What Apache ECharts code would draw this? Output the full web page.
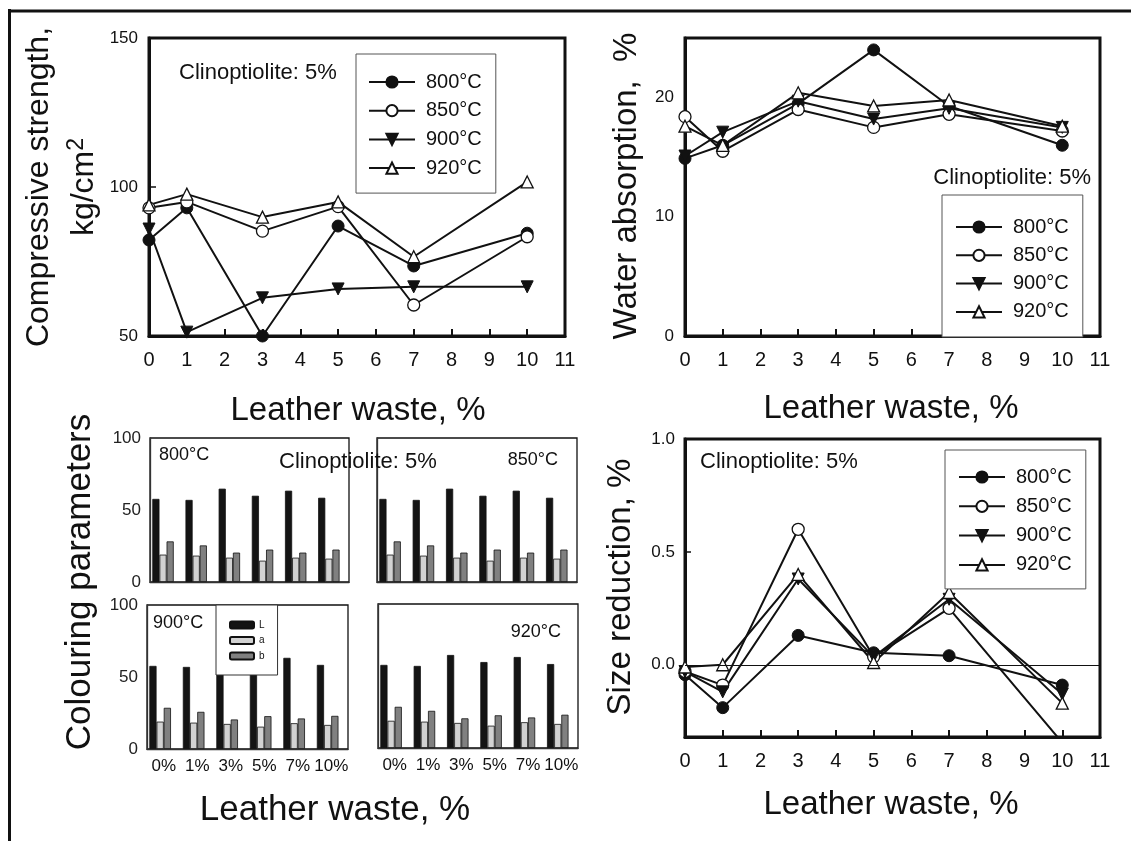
<!DOCTYPE html>
<html><head><meta charset="utf-8">
<script src="https://cdn.jsdelivr.net/npm/echarts@6/dist/echarts.min.js"></script>
<style>html,body{margin:0;padding:0;background:#fff}#c{width:1131px;height:841px}</style>
</head><body><div id="c"></div>
<script>
// ---- data ----
const leatherX = [0, 1, 3, 5, 7, 10];
const tempNames = ['800°C', '850°C', '900°C', '920°C'];
const xTickMax = 11;

const strength800 = [82.2, 93.0, 50.0, 86.9, 73.5, 84.5];
const strength850 = [93.0, 95.0, 85.2, 93.4, 60.4, 83.3];
const strength900 = [85.9, 51.3, 62.8, 65.8, 66.5, 66.5];
const strength920 = [94.0, 97.6, 89.9, 95.0, 76.6, 101.7];

const water800 = [14.9, 16.0, 19.5, 24.0, 19.3, 16.0];
const water850 = [18.4, 15.5, 19.0, 17.5, 18.6, 17.2];
const water900 = [15.1, 17.1, 19.7, 18.2, 19.1, 17.5];
const water920 = [17.6, 16.0, 20.4, 19.3, 19.8, 17.6];

const size800 = [-0.044, -0.19, 0.13, 0.053, 0.04, -0.09];
const size850 = [-0.03, -0.09, 0.60, 0.035, 0.25, -0.345];
const size900 = [-0.03, -0.12, 0.38, 0.035, 0.29, -0.13];
const size920 = [-0.01, 0.0, 0.40, 0.01, 0.32, -0.17];

const colourCats = ['0%', '1%', '3%', '5%', '7%', '10%'];
const colourNames = ['L', 'a', 'b'];
const colour800L = [57.7, 57.0, 64.8, 59.9, 63.4, 58.5];
const colour800a = [19.0, 18.3, 16.9, 14.8, 16.9, 16.2];
const colour800b = [28.2, 25.4, 20.4, 22.5, 20.4, 22.5];
const colour850L = [57.7, 57.0, 64.8, 59.9, 63.4, 58.5];
const colour850a = [19.0, 18.3, 16.9, 14.8, 16.9, 16.2];
const colour850b = [28.2, 25.4, 20.4, 22.5, 20.4, 22.5];
const colour900L = [57.7, 57.0, 64.8, 59.9, 63.3, 58.4];
const colour900a = [19.0, 18.3, 17.4, 15.5, 17.9, 16.7];
const colour900b = [28.6, 25.8, 20.5, 22.8, 21.2, 23.0];
const colour920L = [57.7, 57.0, 64.6, 59.7, 63.2, 58.3];
const colour920a = [18.9, 18.3, 17.4, 15.5, 17.9, 16.7];
const colour920b = [28.6, 25.8, 20.6, 22.7, 21.2, 23.1];

// ---- styling / layout ----
const FONT = '"Liberation Sans", Arial, Helvetica, sans-serif';
const INK = '#111';
const chart = echarts.init(document.getElementById('c'), null, {renderer: 'canvas'});

function pairs(vals) { return leatherX.map((x, i) => [x, vals[i]]); }

const markerStyles = [
  {symbol: 'circle', itemStyle: {color: INK, borderColor: INK, borderWidth: 1}},
  {symbol: 'circle', itemStyle: {color: '#fff', borderColor: INK, borderWidth: 1.3}},
  {symbol: 'path://M0,0L10,0L5,9Z', itemStyle: {color: INK, borderColor: INK, borderWidth: 1}},
  {symbol: 'triangle', itemStyle: {color: '#fff', borderColor: INK, borderWidth: 1.3}}
];

function lineSeries(idx, sets) {
  return sets.map((vals, k) => ({
    type: 'line', name: tempNames[k], xAxisIndex: idx, yAxisIndex: idx,
    data: pairs(vals), symbol: markerStyles[k].symbol, symbolSize: 12,
    itemStyle: markerStyles[k].itemStyle,
    lineStyle: {color: INK, width: 2}, z: 3, clip: true
  }));
}

const barColors = ['#141414', '#d2d2d2', '#808080'];
function vals0() { return colourCats.map(() => '-'); }
function barSeries(idx, sets) {
  const s = sets.map((vals, k) => ({
    type: 'bar', name: colourNames[k], xAxisIndex: idx, yAxisIndex: idx,
    data: vals, barGap: 0, barCategoryGap: '14%',
    itemStyle: {color: barColors[k], borderColor: INK, borderWidth: 0.8}
  }));
  // empty spacer slot so each group sits on the left of its category
  s.push({type: 'bar', name: 'spacer', xAxisIndex: idx, yAxisIndex: idx,
    data: vals0(), barGap: 0, barCategoryGap: '14%', itemStyle: {color: 'rgba(0,0,0,0)'}, silent: true});
  return s;
}

const grids = [
  {left: 149, top: 38, width: 416, height: 298},   // compressive
  {left: 685, top: 38, width: 415, height: 298},   // water
  {left: 685, top: 439, width: 415, height: 298},  // size reduction
  {left: 150, top: 438, width: 199, height: 144},  // 800
  {left: 377, top: 438, width: 200, height: 144},  // 850
  {left: 147, top: 605, width: 201, height: 144},  // 900
  {left: 378, top: 604, width: 200, height: 144}   // 920
].map((g, i) => Object.assign({show: true, borderColor: INK, borderWidth: i < 3 ? 3 : 1.3, backgroundColor: 'transparent'}, g));

function lineX(idx) {
  return {type: 'value', gridIndex: idx, min: 0, max: xTickMax, interval: 1,
    axisLine: {onZero: false, lineStyle: {color: INK, width: 3}},
    axisTick: {inside: true, length: 7, lineStyle: {color: INK, width: 2}},
    axisLabel: {fontFamily: FONT, fontSize: 20, color: INK, margin: 14},
    splitLine: {show: false}};
}
function barX(idx, showLabels) {
  return {type: 'category', gridIndex: idx, data: colourCats,
    axisLine: {onZero: false, lineStyle: {color: '#333', width: 1.3}}, axisTick: {show: false},
    axisLabel: {show: showLabels, fontFamily: FONT, fontSize: 17, color: INK, margin: 9, interval: 0}};
}
function barY(idx, showLabels) {
  return {type: 'value', gridIndex: idx, min: 0, max: 100, interval: 50,
    axisLine: {show: true, onZero: false, lineStyle: {color: '#333', width: 1.3}}, axisTick: {show: false},
    axisLabel: {show: showLabels, fontFamily: FONT, fontSize: 17, color: '#222', margin: 9},
    splitLine: {show: false}};
}

const xAxes = [lineX(0), lineX(1), lineX(2), barX(3, false), barX(4, false), barX(5, true), barX(6, true)];
const yAxes = [
  {type: 'value', gridIndex: 0, min: 50, max: 150, interval: 50,
    axisLine: {onZero: false, lineStyle: {color: INK, width: 3}},
    axisTick: {inside: true, length: 7, lineStyle: {color: INK, width: 1.5}},
    axisLabel: {fontFamily: FONT, fontSize: 17, color: INK, margin: 11}, splitLine: {show: false}},
  {type: 'value', gridIndex: 1, min: 0, max: 25, interval: 10,
    axisLine: {onZero: false, lineStyle: {color: INK, width: 3}}, axisTick: {show: false},
    axisLabel: {fontFamily: FONT, fontSize: 17, color: INK, margin: 11,
      formatter: v => (v % 10 === 0 ? String(v) : '')}, splitLine: {show: false}},
  {type: 'value', gridIndex: 2, min: -0.32, max: 1.0,
    axisLine: {onZero: false, lineStyle: {color: INK, width: 3}},
    axisTick: {inside: true, length: 6, lineStyle: {color: INK, width: 1.5}, customValues: [0.5]},
    axisLabel: {fontFamily: FONT, fontSize: 17, color: INK, margin: 10, customValues: [0, 0.5, 1.0],
      formatter: v => v.toFixed(1)}, splitLine: {show: false}},
  barY(3, true), barY(4, false), barY(5, true), barY(6, false)
];

function lineLegend(left, top, padding, gap) {
  return {show: true, orient: 'vertical', left: left, top: top, padding: padding,
    itemWidth: 46, itemHeight: 14, itemGap: gap, selectedMode: false,
    backgroundColor: '#fff', borderColor: '#555', borderWidth: 1,
    data: tempNames, textStyle: {fontFamily: FONT, fontSize: 20, color: INK, padding: [0, 0, 0, 6]}};
}

const series = [].concat(
  lineSeries(0, [strength800, strength850, strength900, strength920]),
  lineSeries(1, [water800, water850, water900, water920]),
  lineSeries(2, [size800, size850, size900, size920]),
  barSeries(3, [colour800L, colour800a, colour800b]),
  barSeries(4, [colour850L, colour850a, colour850b]),
  barSeries(5, [colour900L, colour900a, colour900b]),
  barSeries(6, [colour920L, colour920a, colour920b])
);
// zero reference line on the size-reduction panel
series[8].markLine = {silent: true, symbol: ['none', 'none'], animation: false, label: {show: false},
  lineStyle: {color: INK, width: 1, type: 'solid'}, data: [{yAxis: 0}]};

function txt(x, y, text, size, opts) {
  const o = opts || {};
  const st = {text: text, font: size + 'px ' + FONT, fill: INK,
      textAlign: o.align || 'left', align: o.align || 'left',
      textVerticalAlign: 'middle', verticalAlign: 'middle'};
  if (o.rich) st.rich = o.rich;
  return {type: 'text', x: x, y: y, rotation: o.rot || 0, z: 100, silent: true, style: st};
}
const R = Math.PI / 2;
const graphics = [
  {type: 'line', shape: {x1: 9.5, y1: 9, x2: 9.5, y2: 841}, style: {stroke: INK, lineWidth: 3}, silent: true},
  {type: 'line', shape: {x1: 8, y1: 11, x2: 1131, y2: 11}, style: {stroke: INK, lineWidth: 3}, silent: true},
  txt(39, 187, 'Compressive strength,', 32, {rot: R, align: 'center'}),
  txt(84, 187, 'kg/cm{s|2}', 32, {rot: R, align: 'center',
    rich: {s: {fontSize: 23, fontFamily: FONT, fill: INK, verticalAlign: 'top', padding: [0, 0, 14, 0]}}}),
  txt(627, 186, 'Water absorption,  %', 33, {rot: R, align: 'center'}),
  txt(621, 587, 'Size reduction, %', 33, {rot: R, align: 'center'}),
  txt(80, 582, 'Colouring parameters', 35, {rot: R, align: 'center'}),
  txt(358, 411, 'Leather waste, %', 33, {align: 'center'}),
  txt(891, 409, 'Leather waste, %', 33, {align: 'center'}),
  txt(335, 810, 'Leather waste, %', 35, {align: 'center'}),
  txt(891, 805, 'Leather waste, %', 33, {align: 'center'}),
  txt(179, 73, 'Clinoptiolite: 5%', 22),
  txt(1091, 178, 'Clinoptiolite: 5%', 22, {align: 'right'}),
  txt(700, 462, 'Clinoptiolite: 5%', 22),
  txt(279, 462, 'Clinoptiolite: 5%', 22),
  txt(159, 455, '800°C', 18),
  txt(558, 460, '850°C', 18, {align: 'right'}),
  txt(153, 623, '900°C', 18),
  txt(561, 632, '920°C', 18, {align: 'right'})
];

chart.setOption({
  animation: false,
  backgroundColor: '#fff',
  grid: grids,
  xAxis: xAxes,
  yAxis: yAxes,
  legend: [
    lineLegend(356, 54, [18, 14, 15, 12], 8.7),
    lineLegend(942, 195, [22, 14, 15, 13], 8.3),
    lineLegend(945, 450, [17, 14, 14, 13], 9.3),
    {show: true, orient: 'vertical', left: 216, top: 605, padding: [15, 13, 14, 13],
      itemWidth: 24, itemHeight: 7, itemGap: 5.5, selectedMode: false,
      backgroundColor: '#fff', borderColor: '#333', borderWidth: 1, z: 10,
      data: colourNames, textStyle: {fontFamily: FONT, fontSize: 10, color: INK}}
  ],
  series: series,
  graphic: {elements: graphics}
});
</script></body></html>
